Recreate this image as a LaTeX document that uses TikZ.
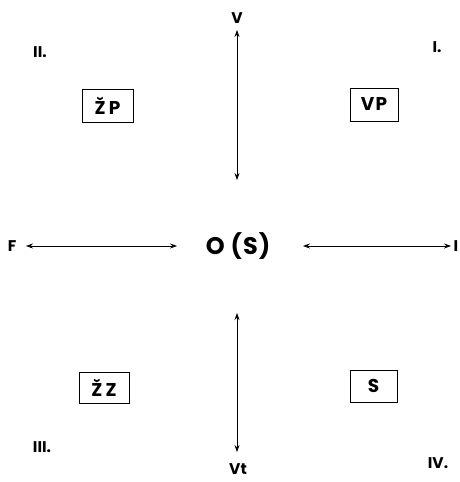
\documentclass[tikz,border=0pt]{standalone}
\usepackage{fontspec}
\setmainfont{Poppins}
\usetikzlibrary{arrows.meta}
\begin{document}
\begin{tikzpicture}[x=1pt,y=-1pt,
  lbl/.style={font=\fontsize{15.5}{17}\selectfont\bfseries, inner sep=0pt},
  boxed/.style={draw, line width=0.9pt, minimum width=50pt, minimum height=33pt, inner sep=0pt, font=\fontsize{18.5}{20}\selectfont\bfseries\addfontfeature{LetterSpace=6}},
  arr/.style={line width=0.7pt, {Stealth[length=7pt,width=5pt]}-{Stealth[length=7pt,width=5pt]}}]
\useasboundingbox (0,0) rectangle (460,482);
\node[lbl] (V) at (237,18) {V};
\node[lbl] (Vt) at (238,469) {Vt};
\node[lbl] (F) at (12,246) {F};
\node[lbl] (I) at (456,246) {I};
\node[inner sep=0pt, font=\fontsize{24}{27}\selectfont\bfseries\addfontfeature{LetterSpace=4}] (O) at (238,246) {O (S)};
\coordinate (vt) at (237,30);
\coordinate (vb) at (237,180);
\coordinate (bt) at (237,313);
\coordinate (bb) at (237,452);
\coordinate (lf) at (26,246);
\coordinate (lr) at (177,246);
\coordinate (rl) at (303,246);
\coordinate (rr) at (451,246);
\draw[arr] (vt) -- (vb);
\draw[arr] (bt) -- (bb);
\draw[arr] (lf) -- (lr);
\draw[arr] (rl) -- (rr);
\node[lbl] (n1) at (437,47) {I.};
\node[lbl] (n2) at (40,52) {II.};
\node[lbl] (n3) at (42,447) {III.};
\node[lbl] (n4) at (438,463) {IV.};
\node[boxed, minimum width=51pt] (zp) at (107.5,105.5) {Ž\,P};
\node[boxed, minimum width=48pt] (vp) at (374,104.5) {VP};
\node[boxed, minimum width=50pt, minimum height=31pt] (zz) at (104,387.5) {Ž\,Z};
\node[boxed, minimum width=47pt, minimum height=32pt] (s) at (373.5,386) {S};
\end{tikzpicture}
\end{document}
